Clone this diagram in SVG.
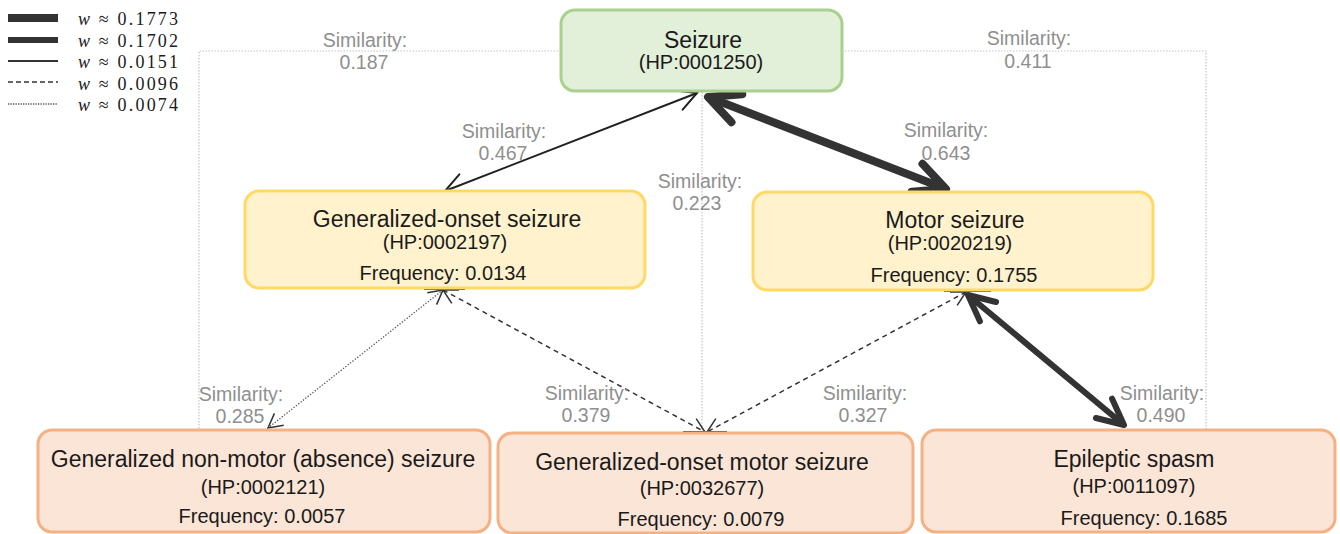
<svg xmlns="http://www.w3.org/2000/svg" width="1340" height="534" viewBox="0 0 1340 534">
<style>
text{font-family:"Liberation Sans",Arial,sans-serif;text-anchor:middle}
.t{font-size:23px;fill:#1a1a1a}
.s{font-size:20px;fill:#1a1a1a}
.lb{font-size:19.5px;fill:#8f8f8f}
.lg{font-family:"Liberation Serif","Times New Roman",serif;font-size:18px;fill:#1a1a1a;text-anchor:start}
.green{fill:#e2efd9;stroke:#a9d18e;stroke-width:3}
.yellow{fill:#fff2cc;stroke:#ffd966;stroke-width:3}
.orange{fill:#fbe5d6;stroke:#f4b183;stroke-width:3}
.grey{fill:none;stroke:#c4c4c4;stroke-width:1.2;stroke-dasharray:1.5 1.5}
.thin{fill:none;stroke:#222;stroke-width:2}
.dash{fill:none;stroke:#333;stroke-width:1.5;stroke-dasharray:5 4}
.dot{fill:none;stroke:#555;stroke-width:1.3;stroke-dasharray:1.3 1.7}
.thick1{fill:none;stroke:#333;stroke-width:8}
.thick2{fill:none;stroke:#333;stroke-width:6}
.bar{stroke:#333;stroke-width:2}
</style>
<defs>
<marker id="aThin" markerUnits="userSpaceOnUse" orient="auto-start-reverse" overflow="visible" markerWidth="1" markerHeight="1" refX="0" refY="0">
<path d="M-19.4,-10.3 L0,0 L-19.4,10.3" fill="none" stroke="#222" stroke-width="2" stroke-linecap="round"/>
</marker>
<marker id="aSmall" markerUnits="userSpaceOnUse" orient="auto-start-reverse" overflow="visible" markerWidth="1" markerHeight="1" refX="0" refY="0">
<path d="M-14.1,-7.5 L0,0 L-14.1,7.5" fill="none" stroke="#333" stroke-width="1.5"/>
</marker>
<marker id="aThick1" markerUnits="userSpaceOnUse" orient="auto-start-reverse" overflow="visible" markerWidth="1" markerHeight="1" refX="0" refY="0">
<path d="M-31,-15 L0,0 L-31,15" fill="none" stroke="#333" stroke-width="8" stroke-linecap="round" stroke-linejoin="round"/>
</marker>
<marker id="aThick2" markerUnits="userSpaceOnUse" orient="auto-start-reverse" overflow="visible" markerWidth="1" markerHeight="1" refX="0" refY="0">
<path d="M-26,-12.6 L0,0 L-26,12.6" fill="none" stroke="#333" stroke-width="6" stroke-linecap="round" stroke-linejoin="round"/>
</marker>
</defs>
<rect width="1340" height="534" fill="#ffffff"/>

<g id="legend">
<line x1="8" y1="18" x2="58" y2="18" stroke="#333" stroke-width="8"/>
<line x1="8" y1="40" x2="58" y2="40" stroke="#333" stroke-width="6"/>
<line x1="8" y1="61" x2="58" y2="61" stroke="#333" stroke-width="2"/>
<line x1="8" y1="82" x2="58" y2="82" stroke="#333" stroke-width="1.5" stroke-dasharray="5 3"/>
<line x1="8" y1="104" x2="58" y2="104" stroke="#555" stroke-width="1.3" stroke-dasharray="1.3 1.2"/>
<text class="lg" x="78" y="25" textLength="100"><tspan font-style="italic">w</tspan> ≈ 0.1773</text>
<text class="lg" x="78" y="47" textLength="100"><tspan font-style="italic">w</tspan> ≈ 0.1702</text>
<text class="lg" x="78" y="68" textLength="100"><tspan font-style="italic">w</tspan> ≈ 0.0151</text>
<text class="lg" x="78" y="90" textLength="100"><tspan font-style="italic">w</tspan> ≈ 0.0096</text>
<text class="lg" x="78" y="111" textLength="100"><tspan font-style="italic">w</tspan> ≈ 0.0074</text>
</g>

<g id="connectors">
<polyline class="grey" points="561,51 199,51 199,430"/>
<polyline class="grey" points="842,51 1206,51 1206,430"/>
<line class="grey" x1="702" y1="92" x2="702" y2="432"/>
<line class="thin" x1="697" y1="93" x2="445" y2="191" marker-start="url(#aThin)" marker-end="url(#aThin)"/>
<line class="thick1" x1="708" y1="97" x2="946" y2="189" marker-start="url(#aThick1)" marker-end="url(#aThick1)"/>
<line class="thick2" x1="968" y1="295" x2="1124" y2="425" marker-start="url(#aThick2)" marker-end="url(#aThick2)"/>
<line class="dot" x1="443" y1="290" x2="268" y2="428" marker-start="url(#aSmall)" marker-end="url(#aSmall)"/>
<line class="dash" x1="443" y1="290" x2="705" y2="432" marker-start="url(#aSmall)" marker-end="url(#aSmall)"/>
<line class="dash" x1="966" y1="292" x2="707" y2="432" marker-start="url(#aSmall)" marker-end="url(#aSmall)"/>
<line class="bar" x1="424" y1="289" x2="465" y2="289"/>
<line class="bar" x1="944" y1="291" x2="991" y2="291"/>
<line class="bar" x1="683" y1="432" x2="727" y2="432"/>
<text class="lb" x="365" y="47">Similarity:</text><text class="lb" x="364" y="69">0.187</text>
<text class="lb" x="1029" y="45">Similarity:</text><text class="lb" x="1028" y="68">0.411</text>
<text class="lb" x="504" y="138">Similarity:</text><text class="lb" x="503" y="160">0.467</text>
<text class="lb" x="946" y="137">Similarity:</text><text class="lb" x="946" y="160">0.643</text>
<text class="lb" x="700" y="188">Similarity:</text><text class="lb" x="697" y="210">0.223</text>
<text class="lb" x="241" y="401">Similarity:</text><text class="lb" x="240" y="423">0.285</text>
<text class="lb" x="587" y="400">Similarity:</text><text class="lb" x="586" y="422">0.379</text>
<text class="lb" x="865" y="400">Similarity:</text><text class="lb" x="863" y="422">0.327</text>
<text class="lb" x="1162" y="400">Similarity:</text><text class="lb" x="1161" y="422">0.490</text>
</g>

<g id="seizure">
<rect class="green" x="561" y="10" width="281" height="81" rx="14"/>
<text class="t" x="703" y="48">Seizure</text>
<text class="s" x="701" y="69">(HP:0001250)</text>
</g>

<g id="generalized-onset">
<rect class="yellow" x="245" y="191" width="400" height="97" rx="14"/>
<text class="t" x="447" y="227">Generalized-onset seizure</text>
<text class="s" x="445" y="249">(HP:0002197)</text>
<text class="s" x="443" y="280">Frequency: 0.0134</text>
</g>

<g id="motor">
<rect class="yellow" x="753" y="192" width="400" height="98" rx="14"/>
<text class="t" x="955" y="228">Motor seizure</text>
<text class="s" x="950" y="250">(HP:0020219)</text>
<text class="s" x="954" y="282">Frequency: 0.1755</text>
</g>

<g id="non-motor">
<rect class="orange" x="38" y="430" width="452" height="102" rx="14"/>
<text class="t" x="263" y="467">Generalized non-motor (absence) seizure</text>
<text class="s" x="263" y="494">(HP:0002121)</text>
<text class="s" x="262" y="523">Frequency: 0.0057</text>
</g>

<g id="onset-motor">
<rect class="orange" x="498" y="433" width="415" height="100" rx="14"/>
<text class="t" x="702" y="470">Generalized-onset motor seizure</text>
<text class="s" x="702" y="495">(HP:0032677)</text>
<text class="s" x="701" y="526">Frequency: 0.0079</text>
</g>

<g id="epileptic">
<rect class="orange" x="922" y="430" width="413" height="102" rx="14"/>
<text class="t" x="1134" y="467">Epileptic spasm</text>
<text class="s" x="1134" y="493">(HP:0011097)</text>
<text class="s" x="1144" y="525">Frequency: 0.1685</text>
</g>
</svg>
